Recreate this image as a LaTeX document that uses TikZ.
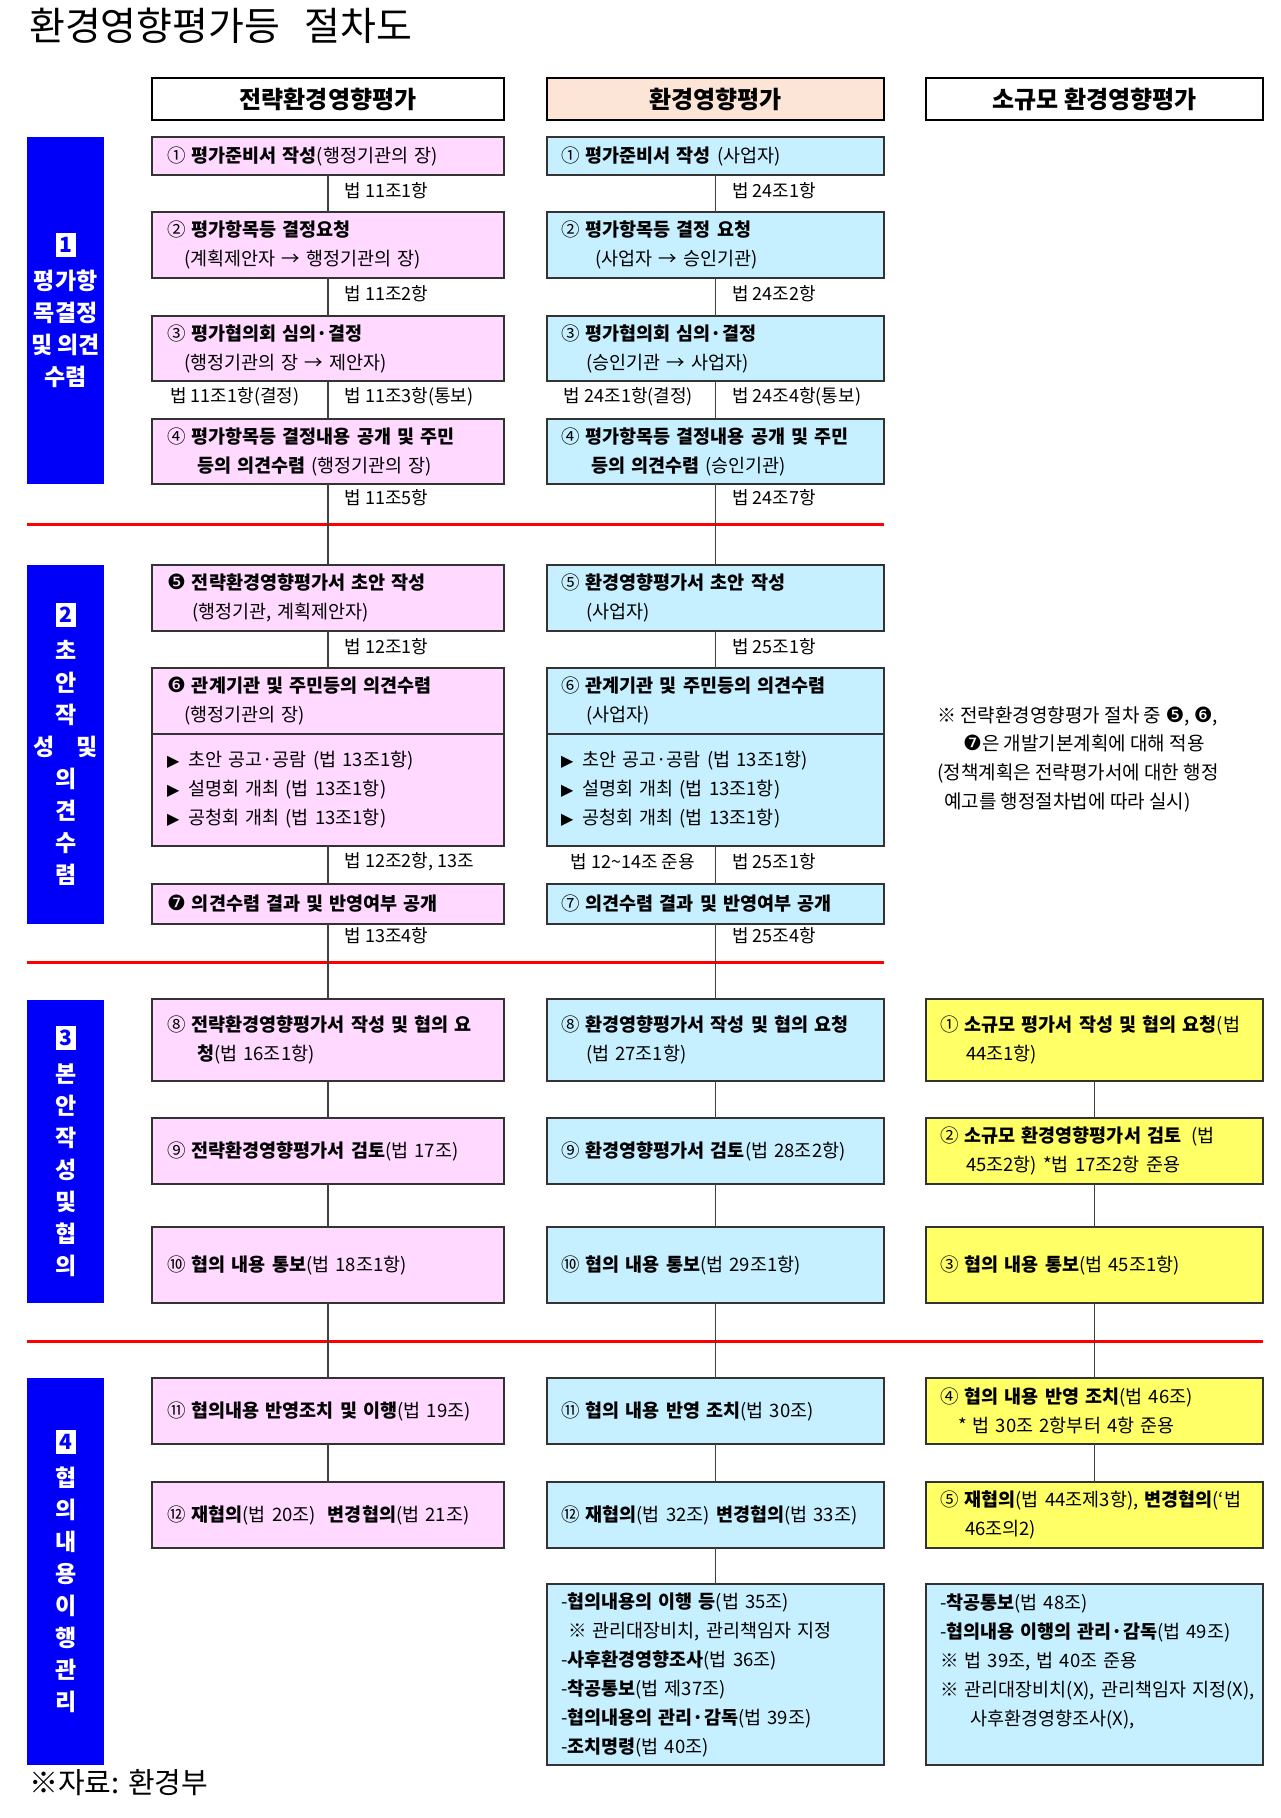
\documentclass[tikz,border=0pt]{standalone}
\usepackage{fontspec}
\setmainfont{Noto Sans CJK KR}
\newfontfamily\dingfont{DejaVu Sans}
\usepackage{xcolor}
\usepackage{tikz}
\usetikzlibrary{positioning}
\definecolor{seapink}{RGB}{255,217,255}
\definecolor{eiacyan}{RGB}{198,240,255}
\definecolor{smallyellow}{RGB}{255,255,102}
\definecolor{headpeach}{RGB}{252,228,214}
\definecolor{phaseblue}{RGB}{0,0,250}
\definecolor{sepred}{RGB}{255,0,0}

\newcommand{\digbox}[1]{{\setlength{\fboxsep}{4pt}\colorbox{white}{\makebox[12pt]{\color{phaseblue}\fontsize{21}{21}\selectfont #1}}}}
\newcommand{\tribul}{{\dingfont\fontsize{16}{16}\selectfont ▶}\hspace{9pt}}
\newcommand{\ncirc}[1]{{\dingfont\fontsize{21}{21}\selectfont #1}}

\begin{document}
\begin{tikzpicture}[
    x=1pt, y=-1pt,
    colhead/.style={rectangle, draw=black, line width=2.5pt, minimum height=42pt, inner sep=0pt, outer sep=0pt, font=\fontsize{24}{28}\selectfont\bfseries},
    stagebox/.style={rectangle, draw=black!80, line width=1.3pt, align=left, inner xsep=14pt, inner ysep=3pt, outer sep=0pt, font=\fontsize{18.5}{29}\selectfont},
    seabox/.style={stagebox, fill=seapink, inner xsep=15pt, text width=322pt},
    eiabox/.style={stagebox, fill=eiacyan, text width=309pt},
    smallbox/.style={stagebox, fill=smallyellow, text width=309pt},
    phase/.style={rectangle, fill=phaseblue, text=white, minimum width=77pt, inner sep=0pt, align=center, font=\fontsize{23}{32}\selectfont\bfseries},
    lawlbl/.style={inner sep=0pt, yshift=3pt, font=\fontsize{18}{20}\selectfont},
    link/.style={draw=black!75, line width=1.3pt},
    sepline/.style={draw=sepred, line width=3pt}
]
    \useasboundingbox (0,0) rectangle (1280,1818);

    % Title
    \node[anchor=west, inner sep=0pt, font=\fontsize{39}{44}\selectfont] (title) at (29,26) {환경영향평가등\hspace{24pt}절차도};

    % Column headers
    \node[colhead, minimum width=352pt, anchor=north west] (h1) at (152,78) {전략환경영향평가};
    \node[colhead, minimum width=337pt, fill=headpeach, right=43pt of h1] (h2) {환경영향평가};
    \node[colhead, minimum width=337pt, right=42pt of h2] (h3) {소규모 환경영향평가};

    % Phase bars
    \node[phase, minimum height=347pt, anchor=north west] (p1) at (27,137) {\digbox{1}\\[5pt]평가항\\목결정\\및 의견\\수렴};
    \node[phase, minimum height=359pt, anchor=north west] (p2) at (27,565) {\digbox{2}\\[5pt]초\\안\\작\\\makebox[64pt][s]{성 및}\\의\\견\\수\\렴};
    \node[phase, minimum height=303pt, anchor=north west] (p3) at (27,1000) {\digbox{3}\\[5pt]본\\안\\작\\성\\및\\협\\의};
    \node[phase, minimum height=387pt, anchor=north west] (p4) at (27,1378) {\digbox{4}\\[5pt]협\\의\\내\\용\\이\\행\\관\\리};

    % Phase separators
    \draw[sepline] (27,524) -- (884,524);
    \draw[sepline] (27,962) -- (884,962);
    \draw[sepline] (27,1341) -- (1263,1341);

    % Strategic EIA
    \node[seabox, minimum height=38pt, anchor=north west] (s1) at (152,137) {① \textbf{평가준비서 작성}(행정기관의 장)};
    \node[seabox, minimum height=66pt, below=37pt of s1] (s2) {② \textbf{평가항목등 결정요청}\\\hspace*{17pt}(계획제안자 → 행정기관의 장)};
    \node[seabox, minimum height=65pt, below=38pt of s2] (s3) {③ \textbf{평가협의회 심의·결정}\\\hspace*{17pt}(행정기관의 장 → 제안자)};
    \node[seabox, minimum height=65pt, below=38pt of s3] (s4) {④ \textbf{평가항목등 결정내용 공개 및 주민}\\\hspace*{30pt}\textbf{등의 의견수렴} (행정기관의 장)};
    \node[seabox, minimum height=66pt, below=81pt of s4] (s5) {\ncirc{❺} \textbf{전략환경영향평가서 초안 작성}\\\hspace*{25pt}(행정기관, 계획제안자)};
    \node[seabox, minimum height=66pt, below=37pt of s5] (s6a) {\ncirc{❻} \textbf{관계기관 및 주민등의 의견수렴}\\\hspace*{17pt}(행정기관의 장)};
    \node[seabox, minimum height=112pt, below=0pt of s6a] (s6b) {\tribul 초안 공고·공람 (법 13조1항)\\\tribul 설명회 개최 (법 13조1항)\\\tribul 공청회 개최 (법 13조1항)};
    \node[seabox, minimum height=40pt, below=38pt of s6b] (s7) {\ncirc{❼} \textbf{의견수렴 결과 및 반영여부 공개}};
    \node[seabox, minimum height=82pt, below=75pt of s7] (s8) {\makebox[322pt][s]{⑧ \textbf{전략환경영향평가서 작성 및 협의 요}}\\\hspace*{30pt}\textbf{청}(법 16조1항)};
    \node[seabox, minimum height=66pt, below=37pt of s8] (s9) {⑨ \textbf{전략환경영향평가서 검토}(법 17조)};
    \node[seabox, minimum height=76pt, below=43pt of s9] (s10) {⑩ \textbf{협의 내용 통보}(법 18조1항)};
    \node[seabox, minimum height=66pt, below=75pt of s10] (s11) {⑪ \textbf{협의내용 반영조치 및 이행}(법 19조)};
    \node[seabox, minimum height=66pt, below=38pt of s11] (s12) {⑫ \textbf{재협의}(법 20조)\hspace{12pt}\textbf{변경협의}(법 21조)};

    % EIA
    \node[eiabox, minimum height=38pt, right=43pt of s1] (e1) {① \textbf{평가준비서 작성} (사업자)};
    \node[eiabox, minimum height=66pt, right=43pt of s2] (e2) {② \textbf{평가항목등 결정 요청}\\\hspace*{34pt}(사업자 → 승인기관)};
    \node[eiabox, minimum height=65pt, right=43pt of s3] (e3) {③ \textbf{평가협의회 심의·결정}\\\hspace*{25pt}(승인기관 → 사업자)};
    \node[eiabox, minimum height=65pt, right=43pt of s4] (e4) {④ \textbf{평가항목등 결정내용 공개 및 주민}\\\hspace*{30pt}\textbf{등의 의견수렴} (승인기관)};
    \node[eiabox, minimum height=66pt, right=43pt of s5] (e5) {⑤ \textbf{환경영향평가서 초안 작성}\\\hspace*{25pt}(사업자)};
    \node[eiabox, minimum height=66pt, right=43pt of s6a] (e6a) {⑥ \textbf{관계기관 및 주민등의 의견수렴}\\\hspace*{25pt}(사업자)};
    \node[eiabox, minimum height=112pt, right=43pt of s6b] (e6b) {\tribul 초안 공고·공람 (법 13조1항)\\\tribul 설명회 개최 (법 13조1항)\\\tribul 공청회 개최 (법 13조1항)};
    \node[eiabox, minimum height=40pt, right=43pt of s7] (e7) {⑦ \textbf{의견수렴 결과 및 반영여부 공개}};
    \node[eiabox, minimum height=82pt, right=43pt of s8] (e8) {\makebox[309pt][s]{⑧ \textbf{환경영향평가서 작성 및 협의 요청}}\\\hspace*{25pt}(법 27조1항)};
    \node[eiabox, minimum height=66pt, right=43pt of s9] (e9) {⑨ \textbf{환경영향평가서 검토}(법 28조2항)};
    \node[eiabox, minimum height=76pt, right=43pt of s10] (e10) {⑩ \textbf{협의 내용 통보}(법 29조1항)};
    \node[eiabox, minimum height=66pt, right=43pt of s11] (e11) {⑪ \textbf{협의 내용 반영 조치}(법 30조)};
    \node[eiabox, minimum height=66pt, right=43pt of s12] (e12) {⑫ \textbf{재협의}(법 32조) \textbf{변경협의}(법 33조)};
    \node[eiabox, minimum height=181pt, below=36pt of e12] (e13) {-\textbf{협의내용의 이행 등}(법 35조)\\\hspace*{7pt}※ 관리대장비치, 관리책임자 지정\\-\textbf{사후환경영향조사}(법 36조)\\-\textbf{착공통보}(법 제37조)\\-\textbf{협의내용의 관리·감독}(법 39조)\\-\textbf{조치명령}(법 40조)};

    % Small-scale EIA
    \node[smallbox, minimum height=82pt, right=42pt of e8] (c1) {\makebox[309pt][s]{① \textbf{소규모 평가서 작성 및 협의 요청}(법}\\\hspace*{26pt}44조1항)};
    \node[smallbox, minimum height=66pt, right=42pt of e9] (c2) {\makebox[300pt][s]{② \textbf{소규모 환경영향평가서 검토}\hspace{10pt}(법}\\\hspace*{26pt}45조2항) *법 17조2항 준용};
    \node[smallbox, minimum height=76pt, right=42pt of e10] (c3) {③ \textbf{협의 내용 통보}(법 45조1항)};
    \node[smallbox, minimum height=66pt, right=42pt of e11] (c4) {④ \textbf{협의 내용 반영 조치}(법 46조)\\\hspace*{18pt}* 법 30조 2항부터 4항 준용};
    \node[smallbox, minimum height=66pt, right=42pt of e12] (c5) {\makebox[309pt][s]{⑤ \textbf{재협의}(법 44조제3항), \textbf{변경협의}(‘법}\\\hspace*{25pt}46조의2)};
    \node[eiabox, minimum height=181pt, right=42pt of e13] (c6) {-\textbf{착공통보}(법 48조)\\-\textbf{협의내용 이행의 관리·감독}(법 49조)\\※ 법 39조, 법 40조 준용\\\mbox{※ 관리대장비치(X), 관리책임자 지정(X),}\\\hspace*{30pt}사후환경영향조사(X),\\\mbox{}};

    % Note
    \node[anchor=west, align=left, inner sep=0pt, font=\fontsize{19}{28.7}\selectfont] (note) at (937,759) {※ 전략환경영향평가 절차 중 \ncirc{❺}, \ncirc{❻},\\\hspace*{26pt}\ncirc{❼}은 개발기본계획에 대해 적용\\(정책계획은 전략평가서에 대한 행정\\\hspace*{7pt}예고를 행정절차법에 따라 실시)};

    % Source
    \node[anchor=west, inner sep=0pt, font=\fontsize{29}{34}\selectfont] (source) at (29,1783) {※자료: 환경부};

    % Connectors, strategic EIA
    \draw[link] (s1) -- node[lawlbl, right=16pt] (l1) {법 11조1항} (s2);
    \draw[link] (s2) -- node[lawlbl, right=16pt] (l2) {법 11조2항} (s3);
    \draw[link] (s3) -- node[lawlbl, right=16pt] (l3) {법 11조3항(통보)} node[lawlbl, left=28pt] (l3a) {법 11조1항(결정)} (s4);
    \draw[link] (s4) -- node[lawlbl, right=16pt, pos=0.2] (l4) {법 11조5항} (s5);
    \draw[link] (s5) -- node[lawlbl, right=16pt] (l5) {법 12조1항} (s6a);
    \draw[link] (s6b) -- node[lawlbl, right=16pt] (l6) {법 12조2항, 13조} (s7);
    \draw[link] (s7) -- node[lawlbl, right=16pt, pos=0.2] (l7) {법 13조4항} (s8);
    \draw[link] (s8) -- (s9);
    \draw[link] (s9) -- (s10);
    \draw[link] (s10) -- (s11);
    \draw[link] (s11) -- (s12);

    % Connectors, EIA
    \draw[link] (e1) -- node[lawlbl, right=16pt] (m1) {법 24조1항} (e2);
    \draw[link] (e2) -- node[lawlbl, right=16pt] (m2) {법 24조2항} (e3);
    \draw[link] (e3) -- node[lawlbl, right=16pt] (m3) {법 24조4항(통보)} node[lawlbl, left=22pt] (m3a) {법 24조1항(결정)} (e4);
    \draw[link] (e4) -- node[lawlbl, right=16pt, pos=0.2] (m4) {법 24조7항} (e5);
    \draw[link] (e5) -- node[lawlbl, right=16pt] (m5) {법 25조1항} (e6a);
    \draw[link] (e6b) -- node[lawlbl, right=16pt] (m6) {법 25조1항} node[lawlbl, left=20pt] (m6a) {법 12\textasciitilde 14조 준용} (e7);
    \draw[link] (e7) -- node[lawlbl, right=16pt, pos=0.2] (m7) {법 25조4항} (e8);
    \draw[link] (e8) -- (e9);
    \draw[link] (e9) -- (e10);
    \draw[link] (e10) -- (e11);
    \draw[link] (e11) -- (e12);
    \draw[link] (e12) -- (e13);

    % Connectors, small-scale EIA
    \draw[link] (c1) -- (c2);
    \draw[link] (c2) -- (c3);
    \draw[link] (c3) -- (c4);
    \draw[link] (c4) -- (c5);
\end{tikzpicture}
\end{document}
